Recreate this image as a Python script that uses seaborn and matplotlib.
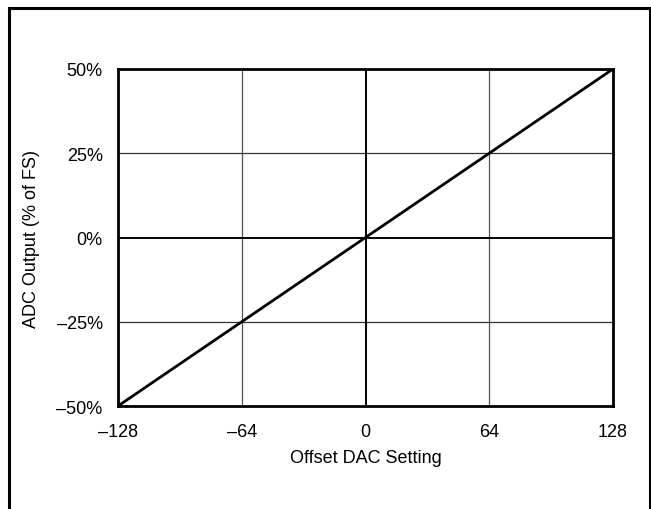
import numpy as np
import pandas as pd
import matplotlib
matplotlib.use('Agg')
import matplotlib.pyplot as plt
import seaborn as sns
from matplotlib.patches import Rectangle

# ------------------------------------------------------
# DATA
# ------------------------------------------------------
dac_setting = [-128, 128]
adc_output = [-50, 50]
x_ticks = [-128, -64, 0, 64, 128]
x_labels = ['\u2013128', '\u201364', '0', '64', '128']
y_ticks = [-50, -25, 0, 25, 50]
y_labels = ['\u201350%', '\u201325%', '0%', '25%', '50%']

data = pd.DataFrame({'Offset DAC Setting': dac_setting, 'ADC Output': adc_output})

# ------------------------------------------------------
# PLOT
# ------------------------------------------------------
sns.set_style('white')
plt.rcParams['font.family'] = ['Liberation Sans', 'DejaVu Sans']
plt.rcParams['font.size'] = 13
plt.rcParams['text.color'] = 'black'
plt.rcParams['axes.labelcolor'] = 'black'

fig = plt.figure(figsize=(6.51, 5.10), dpi=100)
ax = fig.add_axes([118/651, 1-407/510, (613-118)/651, (407-70)/510])

# Grid lines
for xv in [-64, 64]:
	ax.axvline(xv, color='#555555', lw=0.9, zorder=1)
for yv in [-25, 25]:
	ax.axhline(yv, color='#333333', lw=0.9, zorder=1)
ax.axvline(0, color='black', lw=1.4, zorder=1)
ax.axhline(0, color='black', lw=1.4, zorder=1)

sns.lineplot(data=data, x='Offset DAC Setting', y='ADC Output', color='black', lw=2, ax=ax, zorder=3)

ax.set_xlim(-128, 128)
ax.set_ylim(-50, 50)
ax.set_xticks(x_ticks)
ax.set_xticklabels(x_labels)
ax.set_yticks(y_ticks)
ax.set_yticklabels(y_labels)
ax.tick_params(axis='x', length=0, pad=12, labelsize=13, colors='black')
ax.tick_params(axis='y', length=0, pad=11, labelsize=13, colors='black')
ax.set_xlabel('Offset DAC Setting', fontsize=13, labelpad=7, color='black')
ax.set_ylabel('ADC Output (% of FS)', fontsize=13, labelpad=12, color='black')

for s in ax.spines.values():
	s.set_color('black')
	s.set_linewidth(2)
	s.set_visible(True)

# Outer border around the figure
fig.patches.append(Rectangle((9/651, -0.05), (650-9)/651, 1.05-9/510, transform=fig.transFigure,
	fill=False, edgecolor='black', lw=2.2))

fig.savefig('out.png', dpi=100)
